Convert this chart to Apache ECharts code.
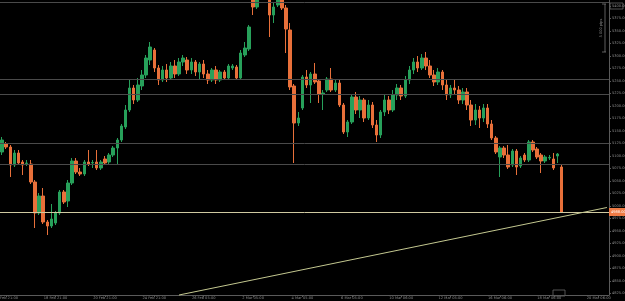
<!DOCTYPE html>
<html><head><meta charset="utf-8">
<script src="https://cdn.jsdelivr.net/npm/echarts@6/dist/echarts.min.js"></script>
<style>html,body{margin:0;padding:0;background:#000;}#c{width:625px;height:301px;}</style>
</head><body><div id="c"></div><script>
const opens=[5108,5124,5118,5082,5106,5088,5085,5084,5048,4986,
5020,4968,4960,4966,4986,5028,5010,5046,5090,5068,
5064,5088,5086,5088,5076,5094,5088,5102,5116,5132,
5158,5192,5236,5212,5240,5262,5292,5312,5276,5252,
5272,5256,5280,5264,5288,5292,5272,5288,5268,5284,
5264,5252,5272,5252,5268,5256,5276,5278,5256,5302,
5314,5422,5398,5422,5452,5422,5382,5402,5418,5396,
5352,5240,5166,5196,5258,5242,5264,5250,5224,5232,
5254,5232,5246,5202,5148,5168,5218,5192,5212,5176,
5202,5162,5142,5188,5212,5192,5222,5236,5220,5252,
5272,5288,5276,5296,5280,5262,5248,5268,5242,5222,
5236,5232,5212,5228,5202,5172,5192,5176,5196,5164,
5136,5098,5116,5102,5082,5110,5080,5102,5092,5128,
5114,5102,5090,5096,5094,5100,5078];
const closes=[5132,5118,5082,5106,5086,5082,5086,5048,4986,5020,
4968,4960,4974,4986,5028,5008,5046,5090,5068,5064,
5088,5084,5087,5076,5088,5086,5102,5116,5132,5160,
5192,5236,5212,5242,5262,5296,5318,5276,5252,5272,
5256,5280,5264,5288,5296,5272,5288,5268,5284,5264,
5252,5272,5252,5268,5256,5280,5280,5256,5306,5316,
5358,5398,5422,5452,5428,5382,5398,5416,5396,5354,
5238,5166,5176,5258,5242,5264,5248,5224,5226,5254,
5232,5246,5202,5148,5168,5218,5192,5212,5176,5202,
5162,5142,5188,5212,5192,5222,5236,5220,5252,5272,
5288,5276,5296,5280,5262,5248,5268,5242,5222,5236,
5232,5212,5228,5202,5172,5192,5176,5196,5164,5136,
5108,5116,5102,5078,5110,5078,5096,5092,5128,5112,
5098,5090,5098,5097,5076,5104,4988];
const lows=[5102,5114,5058,5078,5082,5062,5080,5044,4956,4982,
4964,4942,4956,4962,4982,5004,4998,5042,5064,5060,
5060,5080,5076,5072,5072,5082,5084,5098,5082,5128,
5154,5188,5204,5208,5232,5256,5282,5268,5242,5248,
5248,5252,5256,5260,5280,5264,5264,5260,5252,5256,
5244,5248,5244,5248,5252,5252,5272,5252,5252,5298,
5310,5382,5394,5416,5420,5338,5366,5398,5392,5306,
5232,5086,5160,5192,5236,5206,5244,5206,5192,5228,
5228,5228,5198,5144,5138,5164,5184,5176,5168,5172,
5156,5128,5136,5180,5184,5188,5212,5212,5216,5244,
5264,5268,5272,5272,5256,5240,5242,5232,5212,5216,
5224,5204,5204,5192,5160,5162,5156,5168,5156,5132,
5104,5058,5096,5074,5078,5062,5076,5088,5088,5108,
5094,5066,5086,5092,5072,5086,4986];
const highs=[5138,5128,5122,5112,5112,5092,5092,5092,5052,5026,
5036,4972,5004,4990,5032,5032,5052,5096,5096,5076,
5092,5112,5092,5112,5092,5100,5106,5120,5136,5164,
5202,5252,5242,5256,5272,5302,5328,5316,5282,5280,
5284,5288,5292,5296,5302,5298,5296,5292,5288,5292,
5272,5276,5280,5272,5272,5284,5284,5282,5312,5328,
5362,5432,5442,5472,5472,5432,5406,5432,5432,5402,
5366,5244,5188,5262,5272,5268,5286,5254,5232,5258,
5276,5252,5252,5206,5172,5222,5228,5220,5216,5212,
5208,5172,5192,5222,5220,5232,5244,5242,5260,5280,
5296,5300,5304,5308,5292,5272,5276,5272,5252,5242,
5252,5240,5236,5236,5212,5204,5200,5204,5204,5172,
5140,5120,5120,5122,5114,5114,5100,5106,5132,5132,
5118,5106,5102,5102,5106,5106,5082];
const blankSlots=11;
const timeLabels=["16 Feb 21:00","18 Feb 21:00","20 Feb 21:00","24 Feb 21:00","26 Feb 05:00","2 Mar 05:00","4 Mar 05:00","6 Mar 05:00","10 Mar 06:00","12 Mar 05:00","16 Mar 06:00","18 Mar 06:00","20 Mar 06:00"];
const labelEvery=12, labelOffset=1;
const priceTicks=[4825,4850,4875,4900,4925,4950,4975,5000,5025,5050,5075,5100,5125,5150,5175,5200,5225,5250,5275,5300,5325,5350,5375,5400];
const priceMin=4822, priceMax=5412;
const levels=[5408,5254,5224,5126,5084];
const trendStart=[43,4822], trendEnd=[147,4997];

const n=opens.length+blankSlots;
const cats=[];for(let i=0;i<n;i++)cats.push(String(i));
const ohlc=opens.map((o,i)=>[o,closes[i],lows[i],highs[i]]);
const lastClose=closes[closes.length-1];
const chart=echarts.init(document.getElementById('c'),null,{renderer:'canvas'});
const lblColor='#8c8c8c';
const trendStyle={lineStyle:{color:'#c4c890',width:1,type:'solid'},label:{show:false}};
chart.setOption({
  backgroundColor:'#000',
  animation:false,
  grid:{left:0,right:16,top:0,bottom:6,containLabel:false,outerBoundsMode:'none'},
  xAxis:{type:'category',data:cats,boundaryGap:true,
    axisLine:{show:true,lineStyle:{color:'#5a5a5a',width:1}},
    axisTick:{show:true,length:2,interval:(i)=>i%labelEvery===labelOffset,alignWithLabel:true,lineStyle:{color:'#5a5a5a'}},
    axisLabel:{show:true,interval:(i)=>i%labelEvery===labelOffset,color:lblColor,fontSize:3.6,margin:1,fontFamily:'DejaVu Sans',
      formatter:(v,i)=>{const k=Math.floor(i/labelEvery);return timeLabels[k]||'';}},
    splitLine:{show:false}},
  yAxis:{type:'value',position:'right',min:priceMin,max:priceMax,scale:true,
    axisLine:{show:true,lineStyle:{color:'#5a5a5a',width:1}},
    axisTick:{show:true,length:2,customValues:priceTicks,lineStyle:{color:'#5a5a5a'}},
    axisLabel:{show:true,customValues:priceTicks,color:lblColor,fontSize:3.6,margin:3,fontFamily:'DejaVu Sans',
      formatter:(v)=>v.toFixed(2)},
    splitLine:{show:false}},
  series:[{type:'candlestick',data:ohlc,barWidth:3,clip:true,
    itemStyle:{color:'#27a05a',color0:'#e8703a',borderColor:'#27a05a',borderColor0:'#e8703a',borderWidth:1},
    markLine:{silent:true,symbol:['none','none'],animation:false,
      data:[
        ...levels.map(v=>({yAxis:v,lineStyle:{color:'#4a4a4a',width:1,type:'solid'},label:{show:false}})),
        {yAxis:lastClose,lineStyle:{color:'#cfc9a0',width:1,type:'solid'},
          label:{show:true,position:'end',distance:0,formatter:()=>lastClose.toFixed(2),backgroundColor:'#ee7a45',color:'#fff',fontSize:3.6,padding:[2,2,2,2],fontFamily:'DejaVu Sans'}},
        [Object.assign({coord:[trendStart[0],trendStart[1]]},trendStyle),Object.assign({coord:[trendEnd[0],trendEnd[1]]},trendStyle)]
      ]}
  }],
  graphic:[
    {type:'rect',shape:{x:610,y:3,width:13,height:6},style:{fill:'none',stroke:'#777',lineWidth:0.7}},
    {type:'line',shape:{x1:605,y1:4,x2:605,y2:52},style:{stroke:'#888',lineWidth:0.7}},
    {type:'line',shape:{x1:602,y1:4,x2:606,y2:4},style:{stroke:'#888',lineWidth:0.7}},
    {type:'line',shape:{x1:602,y1:52,x2:606,y2:52},style:{stroke:'#888',lineWidth:0.7}},
    {type:'text',x:601,y:28,rotation:Math.PI/2,style:{text:'5 000 pips',fill:'#888',fontSize:3.6,align:'center',verticalAlign:'middle',fontFamily:'DejaVu Sans'}},
    {type:'rect',shape:{x:553,y:290,width:12,height:6},style:{fill:'none',stroke:'#777',lineWidth:0.7}}
  ]
});
</script></body></html>
